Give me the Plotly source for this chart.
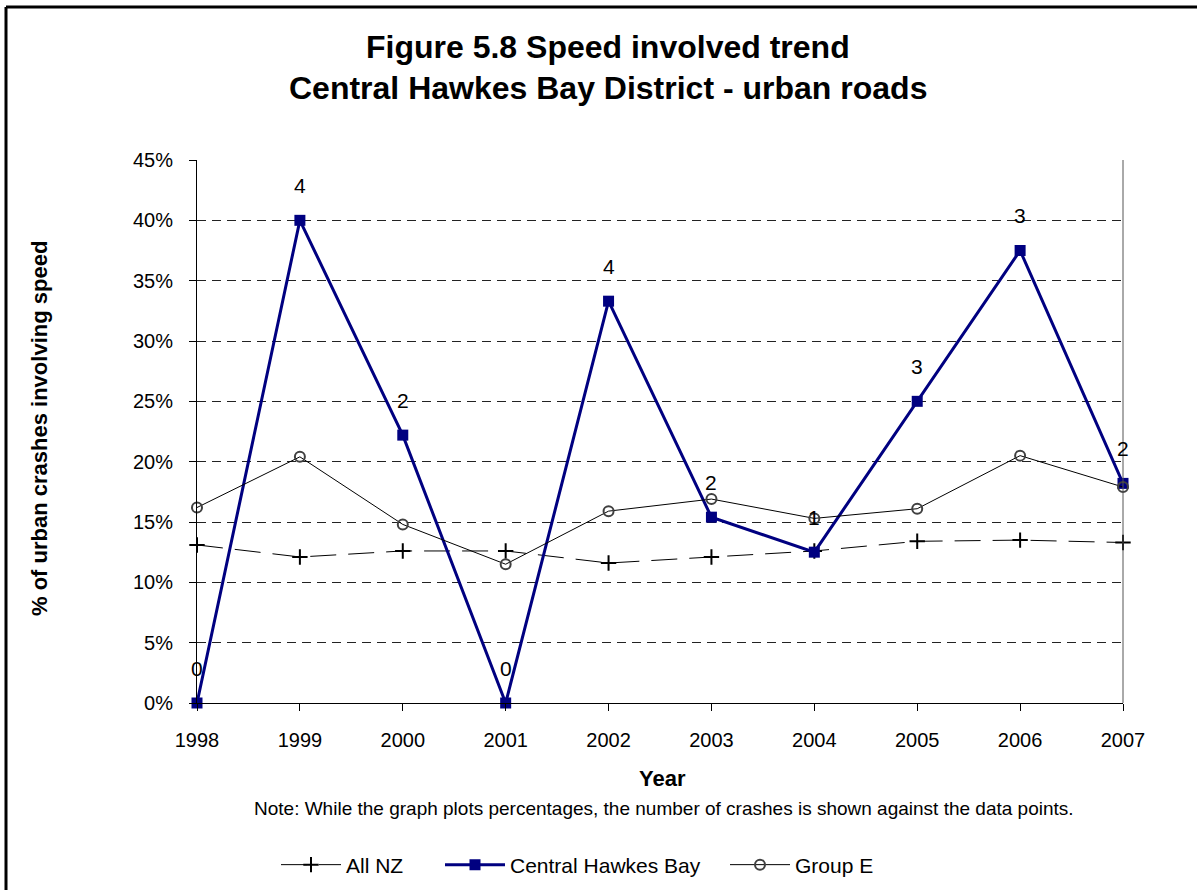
import plotly.graph_objects as go

years = [1998, 1999, 2000, 2001, 2002, 2003, 2004, 2005, 2006, 2007]
all_nz = [13.1, 12.1, 12.6, 12.6, 11.6, 12.1, 12.6, 13.4, 13.5, 13.3]
central_hawkes_bay = [0.0, 40.0, 22.2, 0.0, 33.3, 15.4, 12.5, 25.0, 37.5, 18.2]
group_e = [16.2, 20.4, 14.8, 11.5, 15.9, 16.9, 15.3, 16.1, 20.5, 17.9]
crash_counts = [0, 4, 2, 0, 4, 2, 1, 3, 3, 2]
y_ticks = [0, 5, 10, 15, 20, 25, 30, 35, 40, 45]

FONT = "Liberation Sans, Arial, sans-serif"
NAVY = "#000080"

# plot area in pixels: x 197..1123, y 160..703
L, R, T, B = 197, 1123, 160, 703


def px_x(p):
    return (p - L) / (R - L)


def px_y(p):
    return (B - p) / (B - T)


fig = go.Figure()

fig.add_trace(go.Scatter(
    x=years, y=all_nz, name="All NZ", mode="lines+markers",
    line=dict(color="black", width=1, dash="26px,12px"),
    marker=dict(symbol="cross-thin", size=11, line=dict(color="black", width=2)),
    cliponaxis=False, legend="legend",
))
fig.add_trace(go.Scatter(
    x=years, y=central_hawkes_bay, name="Central Hawkes Bay", mode="lines+markers",
    line=dict(color=NAVY, width=3),
    marker=dict(symbol="square", size=11, color=NAVY),
    cliponaxis=False, legend="legend2",
))
fig.add_trace(go.Scatter(
    x=years, y=group_e, name="Group E", mode="lines+markers",
    line=dict(color="black", width=1),
    marker=dict(symbol="circle-open", size=10, color="#404040", line=dict(width=2)),
    cliponaxis=False, legend="legend3",
))

annotations = []
# crash counts written above the Central Hawkes Bay points
for yr, val, n in zip(years, central_hawkes_bay, crash_counts):
    annotations.append(dict(
        x=yr, y=val, xref="x", yref="y", text=str(n), showarrow=False,
        yshift=35, font=dict(family=FONT, size=21, color="black"),
    ))

annotations += [
    dict(text="<b>Figure 5.8 Speed involved trend</b>", x=px_x(608), y=px_y(47),
         xref="paper", yref="paper", showarrow=False, xanchor="center", yanchor="middle",
         font=dict(family=FONT, size=32, color="black")),
    dict(text="<b>Central Hawkes Bay District - urban roads</b>", x=px_x(608), y=px_y(88),
         xref="paper", yref="paper", showarrow=False, xanchor="center", yanchor="middle",
         font=dict(family=FONT, size=32, color="black")),
    dict(text="<b>% of urban crashes involving speed</b>", x=px_x(39), y=px_y(429),
         xref="paper", yref="paper", showarrow=False, textangle=-90,
         xanchor="center", yanchor="middle",
         font=dict(family=FONT, size=22, color="black")),
    dict(text="<b>Year</b>", x=px_x(662), y=px_y(778),
         xref="paper", yref="paper", showarrow=False, xanchor="center", yanchor="middle",
         font=dict(family=FONT, size=22, color="black")),
    dict(text="Note: While the graph plots percentages, the number of crashes is shown against the data points.",
         x=px_x(664), y=px_y(808), xref="paper", yref="paper", showarrow=False,
         xanchor="center", yanchor="middle",
         font=dict(family=FONT, size=19, color="black")),
]

fig.update_layout(
    width=1197, height=890,
    margin=dict(l=L, r=1197 - R, t=T, b=890 - B, autoexpand=False),
    paper_bgcolor="white", plot_bgcolor="white",
    font=dict(family=FONT, size=20, color="black"),
    showlegend=True,
    xaxis=dict(
        range=[1998, 2007], tickmode="array", tickvals=years,
        showgrid=False, showline=True, linecolor="black", linewidth=1,
        ticks="outside", ticklen=7, tickcolor="black", ticklabelstandoff=12,
        tickfont=dict(family=FONT, size=20), zeroline=False,
    ),
    yaxis=dict(
        range=[0, 45], tickmode="array", tickvals=y_ticks,
        ticktext=[f"{v}%" for v in y_ticks],
        showgrid=True, gridcolor="#222222", griddash="9px,6px", gridwidth=1,
        showline=True, linecolor="black", linewidth=1,
        ticks="outside", ticklen=7, tickcolor="black", ticklabelstandoff=12,
        tickfont=dict(family=FONT, size=20), zeroline=False,
    ),
    annotations=annotations,
)

legend_style = dict(orientation="h", xanchor="left", yanchor="middle",
                    font=dict(family=FONT, size=21), bgcolor="rgba(0,0,0,0)",
                    itemwidth=60)
fig.update_layout(
    legend=dict(x=px_x(276), y=px_y(865), **legend_style),
    legend2=dict(x=px_x(440), y=px_y(865), **legend_style),
    legend3=dict(x=px_x(725), y=px_y(865), **legend_style),
)

# right edge of the plot area and the outer frame (top and left)
fig.update_layout(shapes=[
    dict(type="line", xref="paper", yref="paper", x0=1, x1=1, y0=0, y1=1,
         line=dict(color="#555555", width=1)),
    dict(type="line", xref="paper", yref="paper", x0=px_x(6), x1=px_x(1197),
         y0=px_y(7), y1=px_y(7), line=dict(color="black", width=3)),
    dict(type="line", xref="paper", yref="paper", x0=px_x(6), x1=px_x(6),
         y0=px_y(7), y1=px_y(890), line=dict(color="black", width=3)),
])

fig.write_html("out.html")
